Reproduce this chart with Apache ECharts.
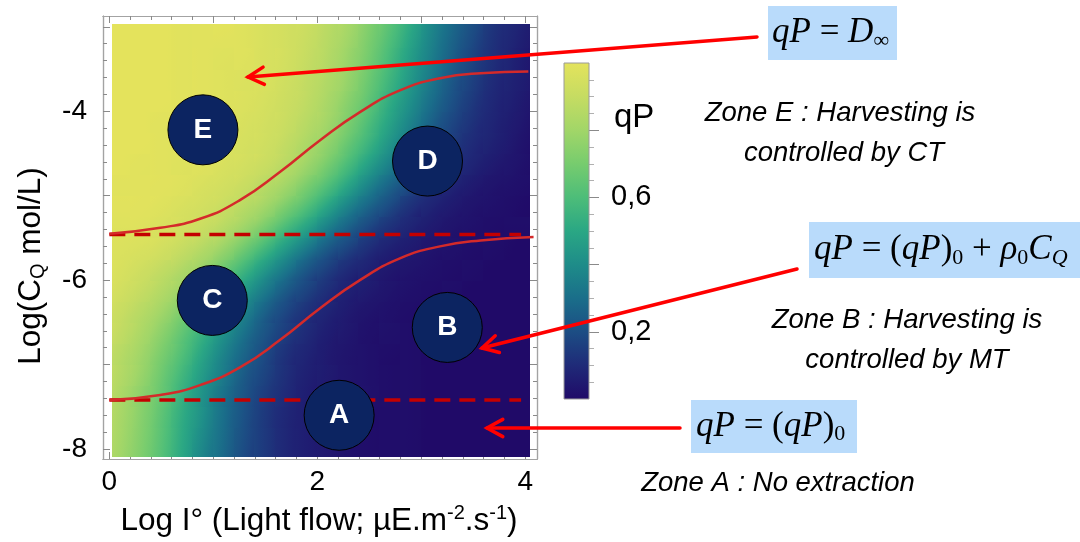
<!DOCTYPE html>
<html><head><meta charset="utf-8">
<script src="https://cdn.jsdelivr.net/npm/echarts@6/dist/echarts.min.js"></script>
<style>html,body{margin:0;padding:0;background:#fff}#c{width:1080px;height:542px}</style>
</head><body><div id="c"></div>
<script>
// ---- data ----
const xCells = [0.1,0.3,0.5,0.7,0.9,1.1,1.3,1.5,1.7,1.9,2.1,2.3,2.5,2.7,2.9,3.1,3.3,3.5,3.7,3.9];
const yCells = [-7.875,-7.625,-7.375,-7.125,-6.875,-6.625,-6.375,-6.125,-5.875,-5.625,-5.375,-5.125,-4.875,-4.625,-4.375,-4.125,-3.875,-3.625,-3.375,-3.125];
// qP rows, bottom (y=-7.875) to top (y=-3.125)
const qPRows = [
 [0.81,0.73,0.63,0.51,0.39,0.29,0.20,0.14,0.09,0.06,0.04,0.02,0.01,0.01,0.01,0,0,0,0,0],
 [0.82,0.74,0.64,0.52,0.41,0.30,0.21,0.14,0.09,0.06,0.04,0.02,0.01,0.01,0.01,0,0,0,0,0],
 [0.83,0.75,0.66,0.54,0.42,0.31,0.22,0.15,0.10,0.06,0.04,0.03,0.02,0.01,0.01,0,0,0,0,0],
 [0.85,0.78,0.68,0.57,0.45,0.34,0.24,0.17,0.11,0.07,0.05,0.03,0.02,0.01,0.01,0,0,0,0,0],
 [0.86,0.80,0.71,0.61,0.49,0.37,0.27,0.19,0.12,0.08,0.05,0.03,0.02,0.01,0.01,0,0,0,0,0],
 [0.89,0.83,0.75,0.65,0.54,0.42,0.31,0.22,0.15,0.10,0.06,0.04,0.02,0.02,0.01,0.01,0,0,0,0],
 [0.91,0.86,0.80,0.71,0.60,0.48,0.37,0.26,0.18,0.12,0.08,0.05,0.03,0.02,0.01,0.01,0,0,0,0],
 [0.94,0.90,0.85,0.78,0.68,0.57,0.45,0.34,0.24,0.17,0.11,0.07,0.05,0.03,0.02,0.01,0.01,0,0,0],
 [0.96,0.93,0.89,0.84,0.77,0.67,0.56,0.44,0.33,0.23,0.16,0.10,0.07,0.04,0.03,0.02,0.01,0.01,0,0],
 [0.97,0.96,0.94,0.90,0.85,0.78,0.68,0.57,0.45,0.34,0.24,0.17,0.11,0.07,0.05,0.03,0.02,0.01,0.01,0],
 [0.98,0.98,0.96,0.94,0.91,0.86,0.79,0.70,0.59,0.48,0.36,0.26,0.18,0.12,0.08,0.05,0.03,0.02,0.01,0.01],
 [0.99,0.99,0.98,0.96,0.94,0.91,0.86,0.80,0.71,0.61,0.49,0.37,0.27,0.19,0.12,0.08,0.05,0.03,0.02,0.01],
 [0.99,0.99,0.99,0.98,0.96,0.94,0.91,0.86,0.80,0.71,0.61,0.49,0.37,0.27,0.19,0.12,0.08,0.05,0.03,0.02],
 [1.00,0.99,0.99,0.98,0.98,0.96,0.94,0.91,0.86,0.79,0.70,0.59,0.47,0.36,0.26,0.18,0.12,0.08,0.05,0.03],
 [1.00,1.00,0.99,0.99,0.98,0.97,0.95,0.93,0.89,0.83,0.76,0.66,0.55,0.43,0.32,0.22,0.15,0.10,0.07,0.04],
 [1.00,1.00,0.99,0.99,0.99,0.98,0.96,0.94,0.91,0.86,0.80,0.71,0.60,0.48,0.37,0.26,0.18,0.12,0.08,0.05],
 [1.00,1.00,1.00,0.99,0.99,0.98,0.97,0.95,0.92,0.88,0.82,0.74,0.64,0.52,0.41,0.30,0.21,0.14,0.09,0.06],
 [1.00,1.00,1.00,0.99,0.99,0.98,0.97,0.96,0.93,0.89,0.84,0.77,0.67,0.56,0.44,0.33,0.23,0.16,0.10,0.07],
 [1.00,1.00,1.00,0.99,0.99,0.98,0.98,0.96,0.94,0.90,0.85,0.78,0.69,0.58,0.46,0.35,0.25,0.17,0.11,0.07],
 [1.00,1.00,1.00,0.99,0.99,0.99,0.98,0.96,0.94,0.91,0.86,0.80,0.71,0.61,0.49,0.37,0.27,0.19,0.12,0.08]
];
const upperCurveX = [0, 0.49, 0.88, 1.26, 1.64, 2.03, 2.41, 2.80, 3.18, 3.57, 4.03];
const upperCurveY = [-5.45, -5.38, -5.27, -5.05, -4.72, -4.34, -4.01, -3.75, -3.61, -3.55, -3.53];
const lowerCurveX = [0, 0.49, 0.88, 1.26, 1.64, 2.03, 2.41, 2.80, 3.18, 3.57, 4.08];
const lowerCurveY = [-7.42, -7.36, -7.24, -7.03, -6.71, -6.33, -6.00, -5.74, -5.60, -5.53, -5.49];
const dashX = [0, 3.96];
const upperDashY = -5.46;
const lowerDashY = -7.42;
const zoneNames = ['E','D','C','B','A'];
const zoneX = [0.90, 3.06, 0.99, 3.25, 2.21];
const zoneY = [-4.22, -4.59, -6.24, -6.56, -7.60];
const xMajorTicks = [0,1,2,3,4];
const xTickLabels = [0,2,4];
const xMinorTicks = [0.2,0.4,0.6,0.8,1.2,1.4,1.6,1.8,2.2,2.4,2.6,2.8,3.2,3.4,3.6,3.8];
const yMajorTicks = [-8,-7,-6,-5,-4,-3];
const yTickLabels = [-8,-6,-4];
const yMinorTicks = [-7.8,-7.6,-7.4,-7.2,-6.8,-6.6,-6.4,-6.2,-5.8,-5.6,-5.4,-5.2,-4.8,-4.6,-4.4,-4.2,-3.8,-3.6,-3.4,-3.2];
const cbMajorTicks = [0.2,0.4,0.6,0.8];
const cbTickLabels = [0.2,0.6];
const colorStops = ['#200a68','#1f2a78','#1c4d84','#1a6e8a','#1e8c89','#2aa784','#4dbd79','#77cc6e','#a2d668','#c6dc62','#e4e35c'];

// ---- layout ----
const FX = [-0.061, 4.113], FY = [-8.118, -2.872];   // frame extents
const HX = [0.026, 4.04], HY = [-8.083, -2.974];      // extents of the coloured field
const FONT = 'Liberation Sans';
const nC = xCells.length, nR = yCells.length;

const heatData = [];
qPRows.forEach((row, r) => row.forEach((v, c) => heatData.push([xCells[c], yCells[r], v, c, r])));
const zip = (a, b) => a.map((v, i) => [v, b[i]]);

const rgbStops = colorStops.map(h => [parseInt(h.slice(1,3),16), parseInt(h.slice(3,5),16), parseInt(h.slice(5,7),16)]);
function cmap(v) {
  v = Math.max(0, Math.min(1, v));
  const p = v * (rgbStops.length - 1), i = Math.min(Math.floor(p), rgbStops.length - 2), t = p - i;
  const a = rgbStops[i], b = rgbStops[i + 1];
  return 'rgb(' + [0,1,2].map(k => Math.round(a[k] + (b[k] - a[k]) * t)).join(',') + ')';
}
function renderCell(params, api) {
  const xc = api.value(0), yc = api.value(1), v = api.value(2), c = api.value(3), r = api.value(4);
  const hwx = (xCells[1] - xCells[0]) / 2, hwy = (yCells[1] - yCells[0]) / 2;
  const xl = c === 0 ? HX[0] : xc - hwx, xr = c === nC - 1 ? HX[1] : xc + hwx;
  const yb = r === 0 ? HY[0] : yc - hwy, yt = r === nR - 1 ? HY[1] : yc + hwy;
  const pTL = api.coord([xl, yt]), pBR = api.coord([xr, yb]), pc = api.coord([xc, yc]);
  const unit = api.size([1, 1]);
  const cl = Math.max(c - 1, 0), cr = Math.min(c + 1, nC - 1);
  const rd = Math.max(r - 1, 0), ru = Math.min(r + 1, nR - 1);
  const dvdx = (qPRows[r][cr] - qPRows[r][cl]) / (xCells[cr] - xCells[cl]);
  const dvdy = (qPRows[ru][c] - qPRows[rd][c]) / (yCells[ru] - yCells[rd]);
  const gx = dvdx / unit[0], gy = -dvdy / unit[1];
  const x0 = Math.floor(pTL[0]), y0 = Math.floor(pTL[1]), x1 = Math.ceil(pBR[0]), y1 = Math.ceil(pBR[1]);
  const g = Math.hypot(gx, gy);
  let fill;
  if (g < 1e-7) fill = cmap(v);
  else {
    const ux = gx / g, uy = gy / g;
    const R = Math.max(Math.hypot(pc[0] - x0, pc[1] - y0), Math.hypot(pc[0] - x1, pc[1] - y1),
                       Math.hypot(pc[0] - x0, pc[1] - y1), Math.hypot(pc[0] - x1, pc[1] - y0)) + 1;
    const stops = [];
    for (let k = 0; k <= 8; k++) { const t = k / 8; stops.push({ offset: t, color: cmap(v + g * R * (2 * t - 1)) }); }
    fill = new echarts.graphic.LinearGradient(pc[0] - ux * R, pc[1] - uy * R, pc[0] + ux * R, pc[1] + uy * R, stops, true);
  }
  return { type: 'rect', shape: { x: x0, y: y0, width: x1 - x0, height: y1 - y0 }, style: { fill: fill } };
}

function fAxis(pos, range, ticks, len, labels, isX) {
  return {
    gridIndex: 0, type: 'value', position: pos, min: range[0], max: range[1],
    axisLine: { show: true, onZero: false, lineStyle: { color: '#a3a3a3', width: 1.2 } },
    axisTick: { show: true, inside: true, length: len, customValues: ticks, lineStyle: { color: '#8a8a8a', width: 1 } },
    axisLabel: labels ? { show: true, customValues: labels, fontSize: 28, color: '#000', fontFamily: FONT, margin: isX ? 9 : 16, formatter: v => String(v) } : { show: false },
    splitLine: { show: false }
  };
}
const xAxes = [
  fAxis('bottom', FX, xMajorTicks, 7, xTickLabels, true),
  fAxis('bottom', FX, xMinorTicks, 4, null, true),
  fAxis('top', FX, xMajorTicks, 7, null, true),
  fAxis('top', FX, xMinorTicks, 4, null, true),
  { gridIndex: 1, type: 'value', show: false, min: 0, max: 1 }
];
const yAxes = [
  fAxis('left', FY, yMajorTicks, 7, yTickLabels, false),
  fAxis('left', FY, yMinorTicks, 4, null, false),
  fAxis('right', FY, yMajorTicks, 7, null, false),
  fAxis('right', FY, yMinorTicks, 4, null, false),
  { gridIndex: 1, type: 'value', position: 'right', min: 0, max: 1, interval: 0.2,
    axisLine: { show: false, onZero: false },
    axisTick: { show: true, length: 10, customValues: cbMajorTicks, lineStyle: { color: '#8a8a8a' } },
    minorTick: { show: true, splitNumber: 4, length: 5, lineStyle: { color: '#b0b0b0' } },
    axisLabel: { customValues: cbTickLabels, fontSize: 29, color: '#000', fontFamily: FONT, margin: 22, formatter: v => v.toFixed(1).replace('.', ',') },
    splitLine: { show: false }, minorSplitLine: { show: false } }
];

function arrow(x1, y1, x2, y2) {
  const a = Math.atan2(y1 - y2, x1 - x2), L = 18, s = 0.5;
  const p1 = [x2 + L * Math.cos(a + s), y2 + L * Math.sin(a + s)];
  const p2 = [x2 + L * Math.cos(a - s), y2 + L * Math.sin(a - s)];
  const st = { stroke: '#ff0000', lineWidth: 3.5, fill: null, lineCap: 'round', lineJoin: 'miter' };
  return [
    { type: 'polyline', z: 100, shape: { points: [[x1, y1], [x2, y2]] }, style: st },
    { type: 'polyline', z: 100, shape: { points: [p1, [x2, y2], p2] }, style: st }
  ];
}
const serif = 'Liberation Serif';
const mathRich = {
  i: { fontFamily: serif, fontStyle: 'italic', fontSize: 35, lineHeight: 38, fill: '#000' },
  r: { fontFamily: serif, fontSize: 35, lineHeight: 38, fill: '#000' },
  s: { fontFamily: serif, fontSize: 22, lineHeight: 16, verticalAlign: 'bottom', fill: '#000' },
  si: { fontFamily: serif, fontStyle: 'italic', fontSize: 22, lineHeight: 16, verticalAlign: 'bottom', fill: '#000' }
};
function formula(bx, by, bw, bh, tx, text) {
  return [
    { type: 'rect', z: 90, shape: { x: bx, y: by, width: bw, height: bh }, style: { fill: '#b9dbfb' } },
    { type: 'text', z: 100, style: { x: tx, y: by + bh / 2, text: text, align: 'left', verticalAlign: 'middle', rich: mathRich, fontSize: 35, fontFamily: serif } }
  ];
}
function zoneText(x, y, t) {
  return { type: 'text', z: 100, style: { x: x, y: y, text: t, align: 'center', verticalAlign: 'middle', fontSize: 27.5, fontStyle: 'italic', fontFamily: FONT, fill: '#000' } };
}
const gradStops = colorStops.map((c, i) => ({ offset: 1 - i / (colorStops.length - 1), color: c })).reverse();

const graphics = [].concat(
  [{ type: 'rect', z: 50, shape: { x: 564, y: 63, width: 25, height: 336 },
     style: { fill: new echarts.graphic.LinearGradient(0, 0, 0, 1, gradStops), stroke: '#9a9a9a', lineWidth: 1 } }],
  [{ type: 'text', z: 100, style: { x: 614, y: 118, text: 'qP', align: 'left', verticalAlign: 'middle', fontSize: 33, fontFamily: FONT, fill: '#000' } }],
  formula(768, 6, 129, 54, 772, '{i|qP}{r| = }{i|D}{s|∞}'),
  formula(809, 222, 271, 56, 814, '{i|qP}{r| = (}{i|qP}{r|)}{s|0}{r| + }{i|ρ}{s|0}{i|C}{si|Q}'),
  formula(691, 400, 166, 53, 696, '{i|qP}{r| = (}{i|qP}{r|)}{s|0}'),
  arrow(757, 37, 248, 77),
  arrow(797, 269, 482, 348),
  arrow(680, 428, 487, 428),
  [zoneText(840, 113, 'Zone E : Harvesting is'), zoneText(844, 153, 'controlled by CT'),
   zoneText(907, 320, 'Zone B : Harvesting is'), zoneText(907, 360, 'controlled by MT'),
   zoneText(778, 483, 'Zone A : No extraction')],
  [{ type: 'text', z: 100, style: { x: 319, y: 521, text: 'Log I° (Light flow; µE.m{sup|-2}.s{sup|-1})', align: 'center', verticalAlign: 'middle',
      fontSize: 31.5, lineHeight: 35, fontFamily: FONT, fill: '#000', rich: { sup: { fontSize: 20, lineHeight: 15, verticalAlign: 'top', fontFamily: FONT, fill: '#000' } } } },
   { type: 'text', z: 100, x: 31, y: 266, rotation: Math.PI / 2, style: { x: 0, y: 0, text: 'Log(C{sub|Q} mol/L)', align: 'center', verticalAlign: 'middle',
      fontSize: 31.5, lineHeight: 35, fontFamily: FONT, fill: '#000', rich: { sub: { fontSize: 20, lineHeight: 15, verticalAlign: 'bottom', fontFamily: FONT, fill: '#000' } } } }]
);

const option = {
  animation: false,
  backgroundColor: '#fff',
  grid: [
    { left: 103, top: 16, width: 434, height: 443 },
    { left: 564, top: 63, width: 25, height: 336 }
  ],
  xAxis: xAxes,
  yAxis: yAxes,
  graphic: { elements: graphics },
  series: [
    { type: 'custom', xAxisIndex: 0, yAxisIndex: 0, data: heatData, renderItem: renderCell, silent: true, clip: false, z: 1 },
    { type: 'line', xAxisIndex: 0, yAxisIndex: 0, data: zip(dashX, dashX.map(() => upperDashY)), symbol: 'none', silent: true,
      lineStyle: { color: '#c40000', width: 3.5, type: [16, 9] } },
    { type: 'line', xAxisIndex: 0, yAxisIndex: 0, data: zip(dashX, dashX.map(() => lowerDashY)), symbol: 'none', silent: true,
      lineStyle: { color: '#c40000', width: 3.5, type: [16, 9] } },
    { type: 'line', xAxisIndex: 0, yAxisIndex: 0, data: zip(upperCurveX, upperCurveY), symbol: 'none', smooth: true, silent: true,
      lineStyle: { color: '#d42a2a', width: 2.5 } },
    { type: 'line', xAxisIndex: 0, yAxisIndex: 0, data: zip(lowerCurveX, lowerCurveY), symbol: 'none', smooth: true, silent: true,
      lineStyle: { color: '#d42a2a', width: 2.5 } },
    { type: 'scatter', xAxisIndex: 0, yAxisIndex: 0, z: 5, silent: true, symbolSize: 70,
      data: zoneNames.map((n, i) => [zoneX[i], zoneY[i], n]),
      itemStyle: { color: '#0c2461', borderColor: '#000', borderWidth: 1, opacity: 1 },
      label: { show: true, position: 'inside', formatter: p => p.value[2], color: '#fff', fontSize: 28, fontWeight: 'bold', fontFamily: FONT } }
  ]
};
const chart = echarts.init(document.getElementById('c'), null, { renderer: 'canvas' });
chart.setOption(option);
</script></body></html>
